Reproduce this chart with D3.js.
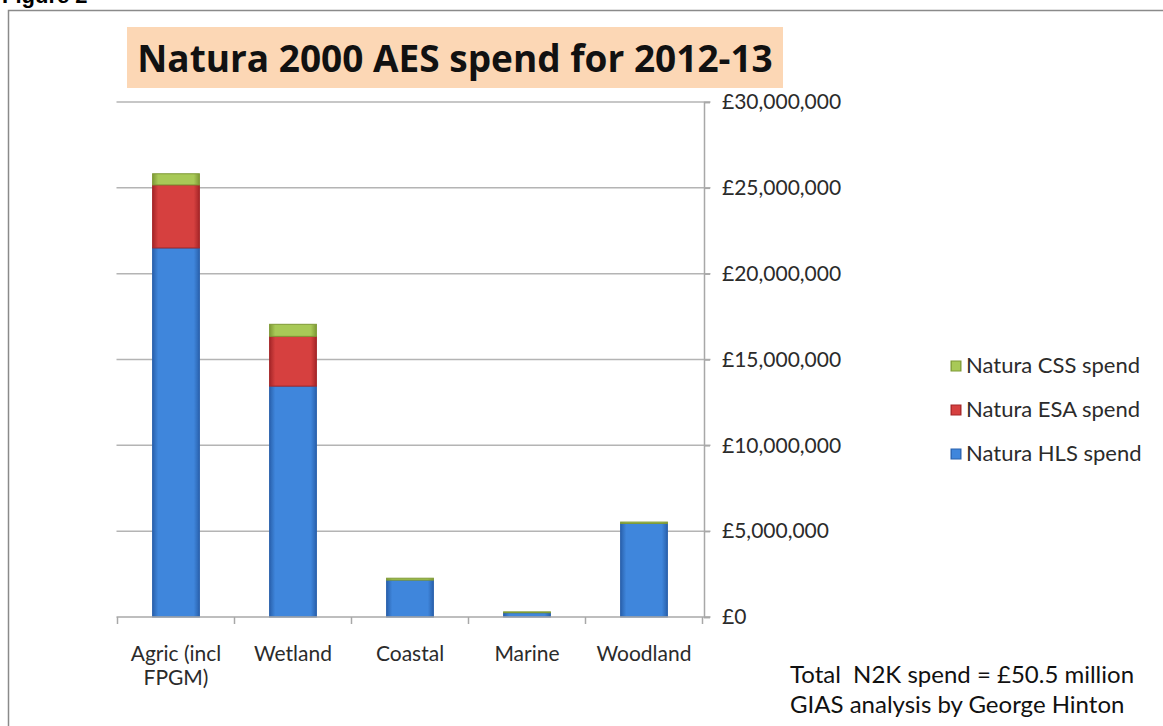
<!DOCTYPE html>
<html>
<head>
<meta charset="utf-8">
<script src="https://cdn.jsdelivr.net/npm/d3@7"></script>
<style>
  body { margin: 0; background: #fff; }
  text { font-family: Lato, "Open Sans", sans-serif; }
</style>
</head>
<body>
<div id="chart"></div>
<script>
// data
var categories = ["Agric (incl|FPGM)", "Wetland", "Coastal", "Marine", "Woodland"];
var hlsSpend = [21500000, 13450000, 2150000, 250000, 5450000];
var esaSpend = [3670000, 2900000, 0, 0, 0];
var cssSpend = [650000, 700000, 110000, 50000, 80000];
var seriesNames = ["Natura HLS spend", "Natura ESA spend", "Natura CSS spend"];
var yTicks = [0, 5000000, 10000000, 15000000, 20000000, 25000000, 30000000];

var colors = {
  "Natura HLS spend": ["#2a62ad", "#3f86dc"],
  "Natura ESA spend": ["#a52628", "#d6403f"],
  "Natura CSS spend": ["#7f9a36", "#a8c957"]
};

var W = 1163, H = 726;
var plot = {left: 117.5, right: 702.5, top: 102, bottom: 617};

var svg = d3.select("#chart").append("svg")
    .attr("width", W)
    .attr("height", H);

// bar gradients (flat imitation of the bevel look)
var defs = svg.append("defs");
seriesNames.forEach(function(s, i) {
  var g = defs.append("linearGradient")
      .attr("id", "grad" + i)
      .attr("x1", "0").attr("x2", "1").attr("y1", "0").attr("y2", "0");
  g.append("stop").attr("offset", "0%").attr("stop-color", colors[s][0]);
  g.append("stop").attr("offset", "12%").attr("stop-color", colors[s][1]);
  g.append("stop").attr("offset", "88%").attr("stop-color", colors[s][1]);
  g.append("stop").attr("offset", "100%").attr("stop-color", colors[s][0]);
});

// figure label (cut off at the top, like the source) + frame
svg.append("text")
    .attr("x", 2).attr("y", 3)
    .style("font-family", "'Liberation Sans', Arial, sans-serif")
    .style("font-weight", "bold")
    .style("font-size", "22px")
    .text("Figure 2");

svg.append("rect")
    .attr("x", 8.5).attr("y", 10.5)
    .attr("width", W).attr("height", H)
    .attr("fill", "none")
    .attr("stroke", "#8a8a8a")
    .attr("stroke-width", 1.5);

// scales
var x = d3.scaleBand()
    .domain(categories)
    .range([plot.left, plot.right])
    .paddingInner(0.6)
    .paddingOuter(0.3);

var y = d3.scaleLinear()
    .domain([0, 30000000])
    .range([plot.bottom, plot.top]);

// gridlines
svg.append("g")
    .selectAll("line")
    .data(yTicks.slice(1))
    .enter().append("line")
      .attr("x1", plot.left - 1)
      .attr("x2", plot.right + 8)
      .attr("y1", function(d) { return y(d); })
      .attr("y2", function(d) { return y(d); })
      .attr("stroke", "#b4b4b4")
      .attr("stroke-width", 1.5);

// stacked data
var rows = categories.map(function(c, i) {
  return {cat: c, "Natura HLS spend": hlsSpend[i], "Natura ESA spend": esaSpend[i], "Natura CSS spend": cssSpend[i]};
});
var stack = d3.stack().keys(seriesNames)(rows);

svg.selectAll(".series")
  .data(stack)
  .enter().append("g")
    .attr("class", "series")
    .attr("fill", function(d, i) { return "url(#grad" + i + ")"; })
    .attr("stroke", function(d) { return colors[d.key][0]; })
  .selectAll("rect")
  .data(function(d) { return d.filter(function(p) { return p[1] > p[0]; }); })
  .enter().append("rect")
    .attr("x", function(d) { return x(d.data.cat); })
    .attr("y", function(d) { return y(d[1]); })
    .attr("width", x.bandwidth())
    .attr("height", function(d) { return y(d[0]) - y(d[1]); })
    .attr("stroke-width", 1);

// y axis on the right
var yAxis = d3.axisRight(y)
    .tickValues(yTicks)
    .tickSize(6)
    .tickPadding(12)
    .tickFormat(function(d) { return "£" + d3.format(",")(d); });

var ya = svg.append("g")
    .attr("transform", "translate(" + (plot.right + 1.5) + ",0)")
    .call(yAxis);
ya.select(".domain").attr("stroke", "#a8a8a8").attr("stroke-width", 1.5);
ya.selectAll(".tick line").attr("stroke", "#a8a8a8").attr("stroke-width", 1.5);
ya.selectAll(".tick text")
    .attr("fill", "#2b2b2b")
    .style("font-size", "21px")
    .style("font-family", "Lato, sans-serif");

// x axis
var xa = svg.append("g")
    .attr("transform", "translate(0," + plot.bottom + ")");
xa.append("line")
    .attr("x1", plot.left - 1).attr("x2", plot.right + 8)
    .attr("stroke", "#a8a8a8").attr("stroke-width", 1.5);
xa.selectAll(".xtick")
  .data(categories.concat(["end"]))
  .enter().append("line")
    .attr("x1", function(d, i) { return plot.left + i * x.step(); })
    .attr("x2", function(d, i) { return plot.left + i * x.step(); })
    .attr("y1", 0).attr("y2", 7)
    .attr("stroke", "#a8a8a8").attr("stroke-width", 1.5);

// category labels, one text per line
categories.forEach(function(c) {
  c.split("|").forEach(function(p, i) {
    xa.append("text")
      .attr("x", x(c) + x.bandwidth() / 2)
      .attr("y", 44 + i * 24)
      .attr("text-anchor", "middle")
      .attr("fill", "#2b2b2b")
      .style("font-size", "21px")
      .text(p);
  });
});

// title box
svg.append("rect")
    .attr("x", 127).attr("y", 27)
    .attr("width", 656).attr("height", 61)
    .attr("fill", "#fcd7b5");
svg.append("text")
    .attr("x", 455).attr("y", 72)
    .attr("text-anchor", "middle")
    .style("font-size", "37px")
    .style("font-family", "'Open Sans', sans-serif")
    .style("font-weight", "bold")
    .attr("fill", "#111")
    .text("Natura 2000 AES spend for 2012-13");

// legend (CSS on top)
var legend = svg.append("g")
    .attr("transform", "translate(951,366)");
seriesNames.slice().reverse().forEach(function(s, i) {
  var idx = seriesNames.indexOf(s);
  var g = legend.append("g").attr("transform", "translate(0," + (i * 44) + ")");
  g.append("rect")
      .attr("x", 0).attr("y", -5)
      .attr("width", 10).attr("height", 10)
      .attr("fill", "url(#grad" + idx + ")")
      .attr("stroke", colors[s][0]);
  g.append("text")
      .attr("x", 15).attr("y", 7)
      .attr("fill", "#2b2b2b")
      .style("font-size", "22px")
      .text(s);
});

// footnote
svg.append("text")
    .attr("x", 790).attr("y", 683)
    .attr("fill", "#111")
    .style("font-size", "24px")
    .style("white-space", "pre")
    .text("Total  N2K spend = £50.5 million");
svg.append("text")
    .attr("x", 790).attr("y", 713)
    .attr("fill", "#111")
    .style("font-size", "24px")
    .text("GIAS analysis by George Hinton");
</script>
</body>
</html>
